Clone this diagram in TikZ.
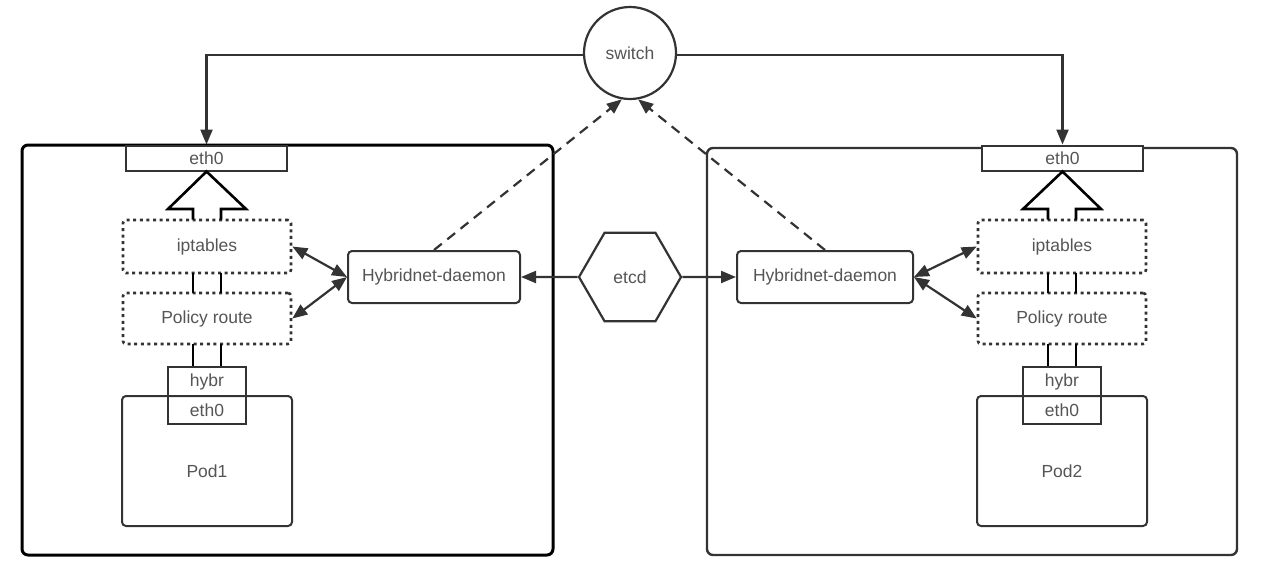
\documentclass[tikz,border=0pt]{standalone}
\usepackage{fontspec}
\setmainfont{Liberation Sans}
\usetikzlibrary{arrows.meta,shapes.geometric}
\definecolor{ln}{HTML}{333333}
\definecolor{tx}{HTML}{555555}
\tikzset{
  every node/.style={font=\fontsize{17.5}{21}\selectfont, text=tx},
  box/.style={draw=ln, line width=2pt, inner sep=0pt, rectangle},
  rbox/.style={box, rounded corners=4pt},
  dotbox/.style={draw=ln, line width=2.6pt, dash pattern=on 3pt off 3.6pt, inner sep=0pt, rounded corners=3pt},
  conn/.style={draw=ln, line width=2.2pt},
  tip/.style={Triangle[length=15pt,width=12pt]},
  arr/.style={conn, -{Triangle[length=15pt,width=12pt]}},
  darr/.style={conn, {Triangle[length=15pt,width=12pt]}-{Triangle[length=15pt,width=12pt]}},
  dashline/.style={conn, dash pattern=on 10pt off 7pt, -{Triangle[length=15pt,width=12pt]}},
  hollow/.style={draw=black, line width=2.6pt, line join=miter},
}
\begin{document}
\begin{tikzpicture}[x=1pt,y=-1pt]
\useasboundingbox (0,0) rectangle (1261,579);
% outer boxes
\draw[draw=black, line width=3pt, rounded corners=6pt] (22,145) rectangle (553,555);
\draw[draw=ln, line width=2.4pt, rounded corners=6pt] (707,148) rectangle (1237,555);

% switch
\node[circle, draw=ln, line width=2.2pt, minimum size=92pt, inner sep=0pt, fill=white] (sw) at (630,53) {switch};

% etcd
\node[regular polygon, regular polygon sides=6, draw=ln, line width=2.2pt, minimum size=102pt, inner sep=0pt, fill=white] (etcd) at (630,277) {etcd};

% ---- left node ----
\node[box, fill=white, minimum width=161pt, minimum height=25pt] (eth0L) at (206.5,158) {eth0};
\node[dotbox, minimum width=168pt, minimum height=53pt] (iptL) at (207,246.5) {iptables};
\node[dotbox, minimum width=168pt, minimum height=51pt] (polL) at (207,318.5) {Policy route};
\node[rbox, minimum width=170pt, minimum height=130pt] (pod1) at (207,461) {};
\node (pod1t) at (207,471) {Pod1};
\node[box, fill=white, minimum width=78pt, minimum height=29pt] (hybrL) at (207,381.5) {hybr};
\node[box, minimum width=78pt, minimum height=28pt] (ethpL) at (207,410) {eth0};
\node[rbox, minimum width=172pt, minimum height=52pt] (dL) at (434,277) {Hybridnet-daemon};

% ---- right node ----
\node[box, fill=white, minimum width=161pt, minimum height=25pt] (eth0R) at (1062.5,158) {eth0};
\node[dotbox, minimum width=168pt, minimum height=53pt] (iptR) at (1062,246.5) {iptables};
\node[dotbox, minimum width=168pt, minimum height=51pt] (polR) at (1062,318.5) {Policy route};
\node[rbox, minimum width=170pt, minimum height=130pt] (pod2) at (1062,461) {};
\node (pod2t) at (1062,471) {Pod2};
\node[box, fill=white, minimum width=78pt, minimum height=29pt] (hybrR) at (1062,381.5) {hybr};
\node[box, minimum width=78pt, minimum height=28pt] (ethpR) at (1062,410) {eth0};
\node[rbox, minimum width=176pt, minimum height=52pt] (dR) at (825,277) {Hybridnet-daemon};

% switch to eth0
\draw[arr] (sw.west |- 0,55) -| (eth0L.north);
\draw[arr] (sw.east |- 0,55) -| (eth0R.north);

% hollow arrows (iptables -> eth0)
\foreach \n/\c in {L/207,R/1062}{
  \draw[hollow] (\c-14,219.5) -- (\c-14,209) -- (\c-39,209) -- (eth0\n.south) -- (\c+39,209) -- (\c+14,209) -- (\c+14,219.5);
  \draw[hollow] (\c-14,273) -- (\c-14,293);
  \draw[hollow] (\c+14,273) -- (\c+14,293);
  \draw[hollow] (\c-14,344) -- (hybr\n.north -| \c-14,0);
  \draw[hollow] (\c+14,344) -- (hybr\n.north -| \c+14,0);
}

% etcd to daemons
\draw[arr] (etcd.west) -- (dL.east);
\draw[arr] (etcd.east) -- (dR.west);

% daemons to iptables / policy route
\draw[darr] (dL.west) -- (iptL.east);
\draw[darr] (dL.west) -- (polL.east);
\draw[darr] (dR.east) -- (iptR.west);
\draw[darr] (dR.east) -- (polR.west);

% dashed to switch
\draw[dashline] (dL.north) -- (sw.-100);
\draw[dashline] (dR.north) -- (sw.-80);
\end{tikzpicture}
\end{document}
